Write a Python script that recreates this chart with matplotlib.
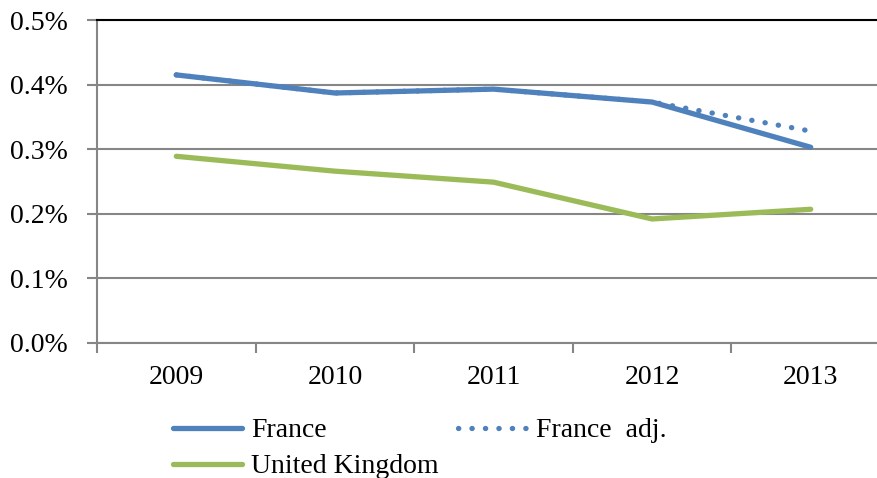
import matplotlib
matplotlib.use("Agg")
import matplotlib.pyplot as plt
from matplotlib.ticker import FixedLocator, FuncFormatter

years = ["2009", "2010", "2011", "2012", "2013"]
france = [0.415, 0.387, 0.393, 0.373, 0.303]
france_adj = [0.415, 0.387, 0.393, 0.373, 0.328]
uk = [0.289, 0.266, 0.249, 0.192, 0.207]

blue = "#4F81BD"
green = "#9BBB59"
grey = "#868686"

plt.rcParams["font.family"] = ["Liberation Serif", "DejaVu Serif"]

fig = plt.figure(figsize=(8.78, 4.78), dpi=100)
ax = fig.add_axes([97 / 878, 1 - 343 / 478, 793 / 878, 323 / 478])

x = range(len(years))
ax.plot(x, france_adj, color=blue, lw=3.8, linestyle=(0, (0.05, 2.5)),
        dash_capstyle="round", label="France  adj.", zorder=3)
ax.plot(x, france, color=blue, lw=3.8, solid_capstyle="round", label="France", zorder=4)
ax.plot(x, uk, color=green, lw=3.8, solid_capstyle="round", label="United Kingdom", zorder=4)

ax.set_xlim(-0.5, len(years) - 0.5)
ax.set_ylim(0, 0.5)
ax.set_yticks([0, 0.1, 0.2, 0.3, 0.4, 0.5])
ax.yaxis.set_major_formatter(FuncFormatter(lambda v, p: f"{v:.1f}%"))
ax.set_xticks(list(x))
ax.set_xticklabels(years)
ax.xaxis.set_minor_locator(FixedLocator([i - 0.5 for i in range(len(years) + 1)]))

ax.tick_params(axis="x", which="major", length=0, pad=16, labelsize=20)
ax.tick_params(axis="x", which="minor", length=7, width=1.5, color=grey, direction="out")
ax.tick_params(axis="y", length=7, width=1.5, color=grey, pad=14, labelsize=20)

ax.grid(axis="y", color=grey, lw=1.5)
ax.set_axisbelow(True)
for s in ["left", "bottom"]:
    ax.spines[s].set_color(grey)
    ax.spines[s].set_linewidth(1.5)
ax.spines["right"].set_visible(False)
ax.spines["top"].set_color("black")
ax.spines["top"].set_linewidth(1.5)

handles, labels = ax.get_legend_handles_labels()
order = [1, 2, 0]
fig.legend([handles[i] for i in order], [labels[i] for i in order],
           loc="upper left", bbox_to_anchor=(173 / 878, 1 - 418 / 478),
           ncol=2, frameon=False, fontsize=20, borderpad=0, borderaxespad=0,
           handlelength=2.5, handletextpad=0.3, labelspacing=0.38, columnspacing=0.7)

fig.savefig("out.png", dpi=100)
